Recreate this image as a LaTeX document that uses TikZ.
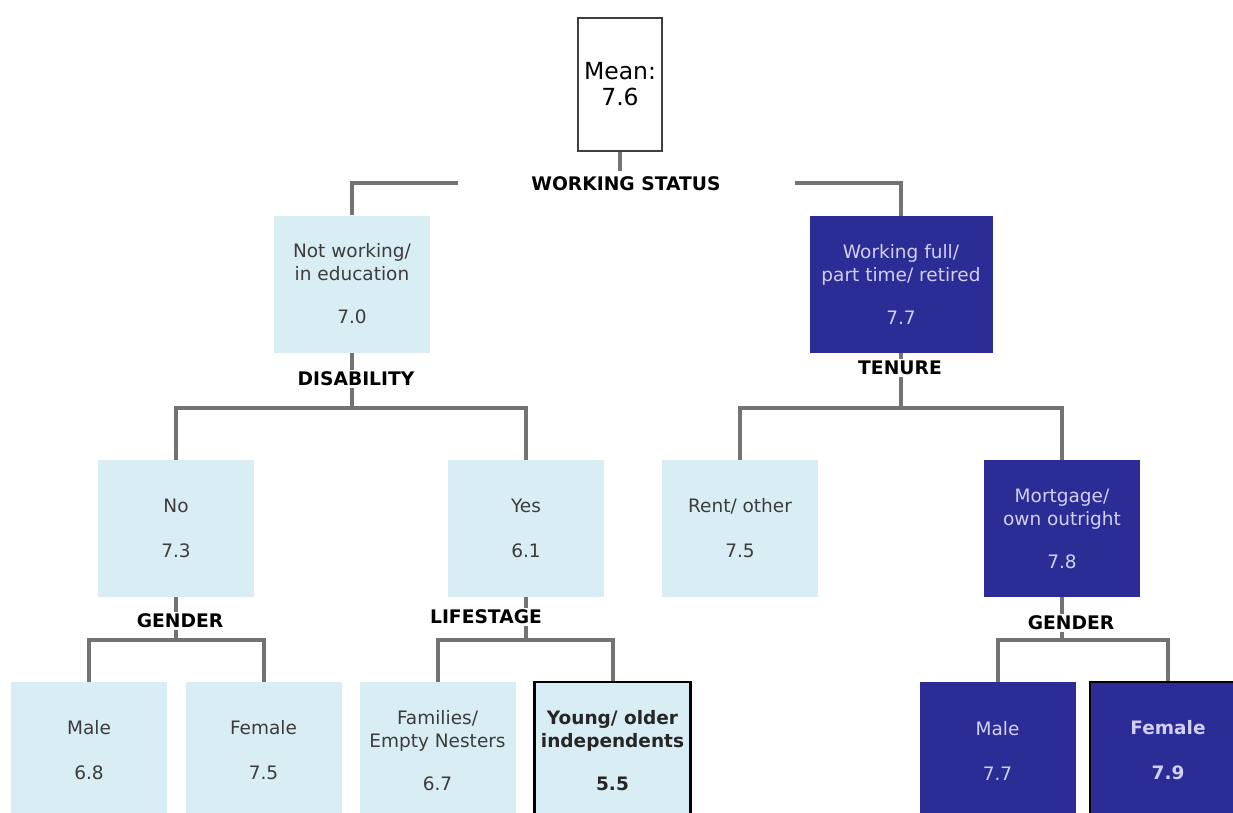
\documentclass[tikz,border=0pt]{standalone}
\usepackage{fontspec}
\setmainfont{DejaVu Sans}
\definecolor{lightbox}{RGB}{217,237,244}
\definecolor{darkbox}{RGB}{44,44,150}
\definecolor{darktext}{RGB}{208,208,242}
\definecolor{boxtext}{RGB}{60,60,60}
\definecolor{linkgray}{RGB}{115,115,115}
\tikzset{
  leaf/.style={fill=lightbox, text=boxtext, align=center, inner sep=0pt,
    minimum width=156pt, minimum height=137pt, font=\fontsize{18.5}{23}\selectfont},
  darkleaf/.style={leaf, fill=darkbox, text=darktext},
  picked/.style={draw=black, line width=2.5pt, font=\bfseries\fontsize{18.5}{23}\selectfont},
  split/.style={fill=white, inner sep=2pt, text=black, font=\bfseries\fontsize{18.7}{22}\selectfont},
  link/.style={draw=linkgray, line width=4pt},
}
\begin{document}
\begin{tikzpicture}[x=1pt,y=-1pt]
  \useasboundingbox (0,0) rectangle (1233,812);
  \clip (0,0) rectangle (1233,812);
  \draw
    (620,84) node[draw=darkgray, line width=2pt, fill=white, align=center,
      minimum width=84pt, minimum height=133pt,
      font=\fontsize{23.5}{26}\selectfont] (root){Mean:\\7.6}
    (352,284) node[leaf] (notw){Not working/\\in education\\[20pt]7.0}
    (901,284.5) node[darkleaf, minimum width=183pt] (work){Working full/\\part time/ retired\\[20pt]7.7}
    (176,528.5) node[leaf] (no){No\\[22pt]7.3}
    (526,528.5) node[leaf] (yes){Yes\\[22pt]6.1}
    (740,528.5) node[leaf] (rent){Rent/ other\\[22pt]7.5}
    (1062,528.5) node[darkleaf] (mort){Mortgage/\\own outright\\[20pt]7.8}
    (89,750.5) node[leaf] (male){Male\\[22pt]6.8}
    (263.5,750.5) node[leaf] (female){Female\\[22pt]7.5}
    (437.5,750.5) node[leaf] (families){Families/\\Empty Nesters\\[20pt]6.7}
    (612.5,750.5) node[leaf, picked, text=black!85] (young){Young/ older\\independents\\[20pt]5.5}
    (997.5,750.5) node[darkleaf] (maletwo){Male\\[22pt]7.7}
    (1168,750.5) node[darkleaf, picked] (femaletwo){Female\\[22pt]7.9};
  % branch points
  \coordinate (wstop) at (620,171);
  \coordinate (wsa) at (458,183);
  \coordinate (wsb) at (795,183);
  \coordinate (disb) at (352,408);
  \coordinate (tenb) at (901,408);
  \coordinate (genb) at (176,640);
  \coordinate (lifeb) at (526,640);
  \coordinate (gentb) at (1062,640);
  \begin{scope}[link]
    \draw (root) to (wstop);
    \draw (wsa) -| (notw);
    \draw (wsb) -| (work);
    \draw (notw) to (disb);
    \draw (disb) -| (no);
    \draw (disb) -| (yes);
    \draw (work) to (tenb);
    \draw (tenb) -| (rent);
    \draw (tenb) -| (mort);
    \draw (no) to (genb);
    \draw (genb) -| (male);
    \draw (genb) -| (female);
    \draw (yes) to (lifeb);
    \draw (lifeb) -| (families);
    \draw (lifeb) -| (young);
    \draw (mort) to (gentb);
    \draw (gentb) -| (maletwo);
    \draw (gentb) -| (femaletwo);
  \end{scope}
  \draw
    (626,184) node[split] (wsl){WORKING STATUS}
    (356,379) node[split] (disl){DISABILITY}
    (900,368) node[split] (tenl){TENURE}
    (180,621) node[split] (genl){GENDER}
    (486,617) node[split] (lifel){LIFESTAGE}
    (1071,623) node[split] (gentl){GENDER};
\end{tikzpicture}
\end{document}
